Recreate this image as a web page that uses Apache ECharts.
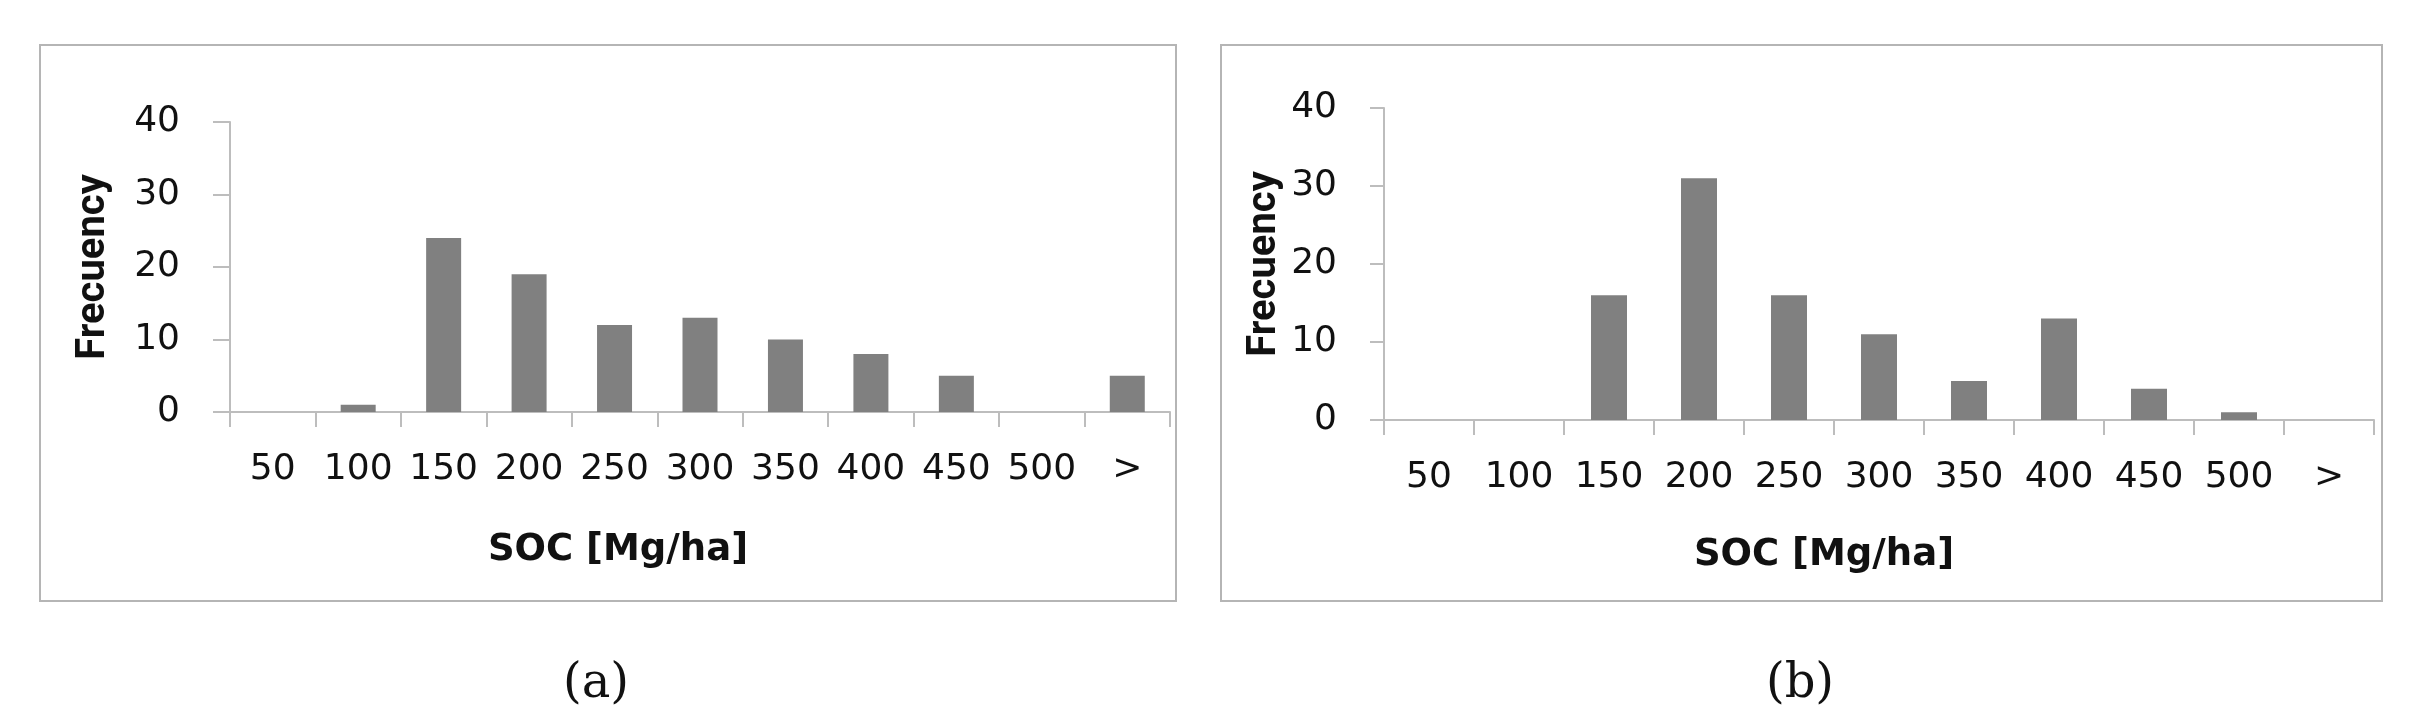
<!DOCTYPE html>
<html>
<head>
<meta charset="utf-8">
<script src="https://cdn.jsdelivr.net/npm/echarts@6/dist/echarts.min.js"></script>
<style>
  html, body { margin: 0; padding: 0; background: #ffffff; }
  #soc-chart { width: 2411px; height: 728px; }
</style>
</head>
<body>
<div id="soc-chart"></div>
<script>
// SOC classes (upper bound of each 50 Mg/ha bin)
const socClasses = ['50', '100', '150', '200', '250', '300', '350', '400', '450', '500', '>'];
// frequencies per class, panel (a) and panel (b)
const frequencyA = [0, 1, 24, 19, 12, 13, 10, 8, 5, 0, 5];
const frequencyB = [0, 0, 16, 31, 16, 11, 5, 13, 4, 1, 0];
const freqMin = 0;
const freqMax = 40;
const freqStep = 10;
const panelLabels = ['(a)', '(b)'];

const axisGrey = '#bdbdbd';
const barGrey = '#808080';
const textColor = '#111111';

function xAxisFor(gridIndex, nameGap, nameShift) {
    return {
        type: 'category',
        gridIndex: gridIndex,
        data: socClasses,
        boundaryGap: true,
        name: 'SOC [Mg/ha]',
        nameLocation: 'middle',
        nameGap: nameGap,
        nameTextStyle: {
            fontFamily: 'DejaVu Sans', fontWeight: 'bold', fontSize: 37, color: textColor,
            padding: [0, nameShift, 0, 0]
        },
        axisLine: { show: true, lineStyle: { color: axisGrey, width: 2 } },
        axisTick: { show: true, alignWithLabel: false, length: 15, lineStyle: { color: axisGrey, width: 2 } },
        axisLabel: { interval: 0, margin: 40, fontFamily: 'DejaVu Sans', fontSize: 36, color: textColor },
        splitLine: { show: false }
    };
}

function yAxisFor(gridIndex, labelMargin, tickLength, nameGap) {
    return {
        type: 'value',
        gridIndex: gridIndex,
        min: freqMin,
        max: freqMax,
        interval: freqStep,
        name: 'Frecuency',
        nameLocation: 'middle',
        nameRotate: 90,
        nameGap: nameGap,
        nameTextStyle: { fontFamily: 'Roboto', fontWeight: 'bold', fontSize: 40, color: textColor },
        axisLine: { show: true, lineStyle: { color: axisGrey, width: 2 } },
        axisTick: { show: true, length: tickLength, lineStyle: { color: axisGrey, width: 2 } },
        axisLabel: { margin: labelMargin, fontFamily: 'DejaVu Sans', fontSize: 36, color: textColor },
        splitLine: { show: false }
    };
}

let chart = echarts.init(document.getElementById('soc-chart'), null, { renderer: 'canvas' });

let option = {
    animation: false,
    backgroundColor: '#ffffff',
    grid: [
        { left: 230, top: 122, width: 940, height: 290 },
        { left: 1384, top: 108, width: 990, height: 312 }
    ],
    xAxis: [
        xAxisFor(0, 120, 164),
        xAxisFor(1, 117, 110)
    ],
    yAxis: [
        yAxisFor(0, 50, 17, 116),
        yAxisFor(1, 47, 14, 99)
    ],
    series: [
        {
            type: 'bar', xAxisIndex: 0, yAxisIndex: 0,
            data: frequencyA, barWidth: 35,
            itemStyle: { color: barGrey }
        },
        {
            type: 'bar', xAxisIndex: 1, yAxisIndex: 1,
            data: frequencyB, barWidth: 36,
            itemStyle: { color: barGrey }
        }
    ],
    // chart-area frames and the panel captions underneath
    graphic: [
        {
            type: 'rect', silent: true,
            shape: { x: 40, y: 45, width: 1136, height: 556 },
            style: { fill: null, stroke: '#b5b5b5', lineWidth: 2 }
        },
        {
            type: 'rect', silent: true,
            shape: { x: 1221, y: 45, width: 1161, height: 556 },
            style: { fill: null, stroke: '#b5b5b5', lineWidth: 2 }
        },
        {
            type: 'text', x: 596, y: 685,
            style: { text: panelLabels[0], font: '48px "DejaVu Serif"', fill: textColor, textAlign: 'center', textVerticalAlign: 'middle' }
        },
        {
            type: 'text', x: 1800, y: 685,
            style: { text: panelLabels[1], font: '48px "DejaVu Serif"', fill: textColor, textAlign: 'center', textVerticalAlign: 'middle' }
        }
    ]
};

chart.setOption(option);
</script>
</body>
</html>
